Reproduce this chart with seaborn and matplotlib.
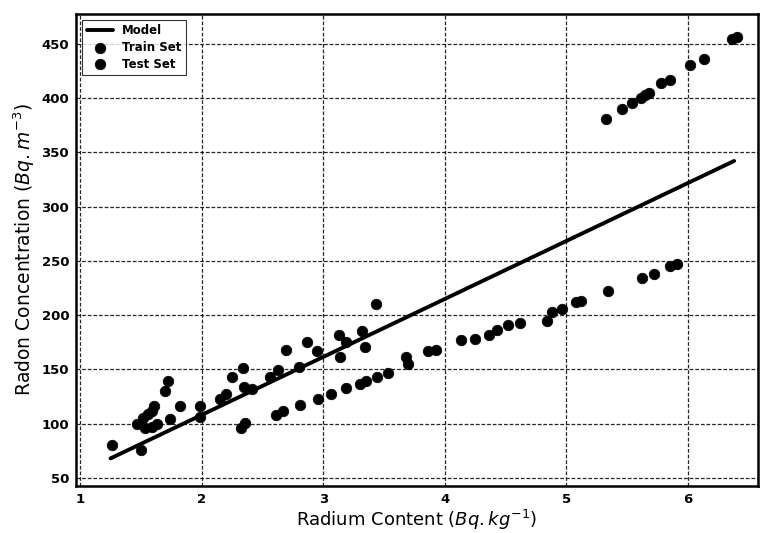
import matplotlib
matplotlib.use("Agg")
import matplotlib.pyplot as plt
import seaborn as sns
import pandas as pd

# Radium content (Bq/kg) vs radon concentration (Bq/m^3)
train_x = [1.26, 1.47, 1.52, 1.56, 1.61, 1.53, 1.63, 1.70, 1.74, 1.99,
           2.15, 2.25, 2.34, 2.41, 2.32, 2.56, 2.69, 2.61, 2.80, 2.87,
           2.96, 3.06, 3.13, 3.14, 3.32, 3.43, 3.19, 3.35, 3.44, 3.68,
           3.86, 4.13, 4.25, 4.43, 4.52, 4.84, 4.96, 5.08, 5.34, 5.62,
           5.85, 5.33, 5.54, 5.65, 5.78, 6.02, 6.36]
train_y = [80, 100, 105, 109, 116, 96, 100, 130, 104, 106,
           123, 143, 151, 132, 96, 143, 168, 108, 152, 175,
           123, 127, 182, 161, 185, 210, 133, 139, 143, 161,
           167, 177, 178, 186, 191, 195, 206, 212, 222, 234,
           245, 381, 395, 403, 414, 430, 454]
test_x = [1.50, 1.59, 1.59, 1.72, 1.82, 1.99, 2.20, 2.35, 2.36, 2.63,
          2.67, 2.81, 2.95, 3.19, 3.30, 3.34, 3.53, 3.70, 3.93, 4.36,
          4.62, 4.88, 5.12, 5.72, 5.91, 5.46, 5.61, 5.68, 5.85, 6.13,
          6.40]
test_y = [76, 112, 97, 139, 116, 116, 127, 134, 101, 149,
          112, 117, 167, 175, 137, 171, 147, 155, 168, 182,
          193, 203, 213, 238, 247, 390, 400, 405, 417, 436,
          456]

# Fitted regression line
model_x = [1.25, 6.38]
model_y = [68, 342]

x_ticks = [1, 2, 3, 4, 5, 6]
y_ticks = [50, 100, 150, 200, 250, 300, 350, 400, 450]

sns.set_style("white")
plt.rcParams["font.family"] = ["DejaVu Sans"]
plt.rcParams["text.color"] = "black"
plt.rcParams["axes.labelcolor"] = "black"
plt.rcParams["xtick.color"] = "black"
plt.rcParams["ytick.color"] = "black"

fig = plt.figure(figsize=(7.61, 5.33), dpi=100)
ax = fig.add_axes([0.100, 0.088, 0.896, 0.886])

train = pd.DataFrame({"x": train_x, "y": train_y})
test = pd.DataFrame({"x": test_x, "y": test_y})
model = pd.DataFrame({"x": model_x, "y": model_y})

sns.lineplot(data=model, x="x", y="y", ax=ax, color="black", linewidth=2.8,
             label="Model", zorder=3)
sns.scatterplot(data=train, x="x", y="y", ax=ax, color="black", s=58,
                edgecolor="black", linewidth=0.5, label="Train Set", zorder=4)
sns.scatterplot(data=test, x="x", y="y", ax=ax, color="black", s=58,
                edgecolor="black", linewidth=0.5, label="Test Set", zorder=4)

ax.set_xlim(0.967, 6.576)
ax.set_ylim(42.5, 477.5)
ax.set_xticks(x_ticks)
ax.set_yticks(y_ticks)
ax.set_xticklabels([str(t) for t in x_ticks], fontsize=9.5, fontweight="bold")
ax.set_yticklabels([str(t) for t in y_ticks], fontsize=9.5, fontweight="bold")
ax.tick_params(axis="both", direction="out", length=3, width=1.2,
               color="black", labelcolor="black", pad=2)

ax.grid(True, color="black", linestyle=(0, (3, 1.5)), linewidth=0.9, alpha=0.85)
ax.set_axisbelow(True)
for sp in ax.spines.values():
    sp.set_color("black")
    sp.set_linewidth(1.8)

ax.set_xlabel(r"Radium Content ($Bq.kg^{-1}$)", fontsize=13, labelpad=1,
              color="black")
ax.set_ylabel(r"Radon Concentration ($Bq.m^{-3}$)", fontsize=13.5, labelpad=3,
              color="black")

leg = ax.legend(loc="upper left", frameon=True, fontsize=8.5, borderpad=0.4,
                handlelength=2.2, labelspacing=0.3, fancybox=False)
for t in leg.get_texts():
    t.set_fontweight("bold")
    t.set_color("black")
leg.get_frame().set_edgecolor("black")
leg.get_frame().set_linewidth(0.8)

fig.savefig("out.png", dpi=100)
